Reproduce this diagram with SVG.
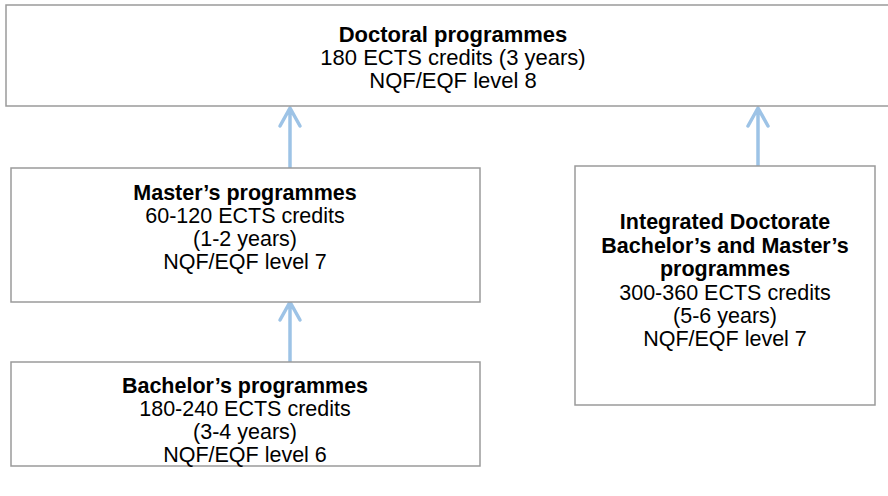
<svg xmlns="http://www.w3.org/2000/svg" width="888" height="496" viewBox="0 0 888 496">
  <style>
    .box { fill: #ffffff; stroke: #9a9a9a; stroke-width: 1.5; }
    .t { font-family: "Liberation Sans", Arial, sans-serif; font-size: 21.5px; fill: #000; text-anchor: middle; }
    .top { font-size: 22px; }
    .b { font-weight: bold; }
    .arrow { fill: none; stroke: #9dc3e6; stroke-width: 3.5; stroke-linecap: round; stroke-linejoin: round; }
  </style>
  <rect width="888" height="496" fill="#ffffff"/>

  <g id="connectors">
    <path class="arrow" d="M290 168 V108 M280 126 L290 108 L300 126"/>
    <path class="arrow" d="M758 166 V108 M748 126 L758 108 L768 126"/>
    <path class="arrow" d="M290 362 V302 M280 320 L290 302 L300 320"/>
  </g>

  <g id="doctoral">
    <rect class="box" x="6" y="5" width="890" height="101"/>
    <text class="t top b" x="453" y="42">Doctoral programmes</text>
    <text class="t top" x="453" y="65">180 ECTS credits (3 years)</text>
    <text class="t top" x="453" y="88">NQF/EQF level 8</text>
  </g>

  <g id="master">
    <rect class="box" x="11" y="168" width="469" height="134"/>
    <text class="t b" x="245" y="200">Master’s programmes</text>
    <text class="t" x="245" y="223">60-120 ECTS credits</text>
    <text class="t" x="245" y="246">(1-2 years)</text>
    <text class="t" x="245" y="269">NQF/EQF level 7</text>
  </g>

  <g id="bachelor">
    <rect class="box" x="11" y="362" width="469" height="104"/>
    <text class="t b" x="245" y="393">Bachelor’s programmes</text>
    <text class="t" x="245" y="416">180-240 ECTS credits</text>
    <text class="t" x="245" y="439">(3-4 years)</text>
    <text class="t" x="245" y="462">NQF/EQF level 6</text>
  </g>

  <g id="integrated">
    <rect class="box" x="575" y="166" width="300" height="239"/>
    <text class="t b" x="725" y="229">Integrated Doctorate</text>
    <text class="t b" x="725" y="253">Bachelor’s and Master’s</text>
    <text class="t b" x="725" y="276">programmes</text>
    <text class="t" x="725" y="300">300-360 ECTS credits</text>
    <text class="t" x="725" y="323">(5-6 years)</text>
    <text class="t" x="725" y="346">NQF/EQF level 7</text>
  </g>
</svg>
